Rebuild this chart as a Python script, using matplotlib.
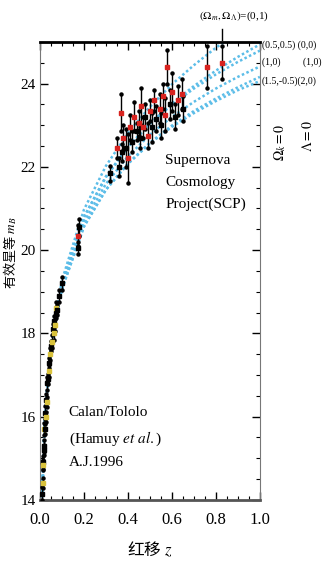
import matplotlib
matplotlib.use('Agg')
import matplotlib.pyplot as plt

# ========== DATA ==========
# model curves (Omega_m, Omega_L), magnitudes
z_model = [0.01, 0.02, 0.03, 0.05, 0.07, 0.1, 0.2, 0.3, 0.4, 0.5, 0.6, 0.7, 0.8, 0.9, 1.0]
m_0_1 = [14.07, 15.58, 16.48, 17.63, 18.38, 19.27, 20.97, 22.02, 22.81, 23.44, 23.98, 24.44, 24.86, 25.23, 25.57]
m_05_05 = [14.07, 15.58, 16.47, 17.61, 18.35, 19.19, 20.80, 21.77, 22.48, 23.03, 23.49, 23.88, 24.22, 24.52, 24.79]
m_0_0 = [14.07, 15.58, 16.47, 17.61, 18.35, 19.17, 20.78, 21.75, 22.47, 23.04, 23.52, 23.94, 24.31, 24.64, 24.94]
m_1_0 = [14.07, 15.57, 16.46, 17.59, 18.32, 19.11, 20.67, 21.59, 22.25, 22.77, 23.20, 23.56, 23.88, 24.16, 24.41]
m_15_m05 = [14.06, 15.57, 16.45, 17.57, 18.30, 19.06, 20.56, 21.45, 22.08, 22.58, 22.99, 23.34, 23.64, 23.91, 24.16]
m_2_0 = [14.06, 15.57, 16.45, 17.57, 18.30, 19.06, 20.57, 21.45, 22.07, 22.56, 22.96, 23.29, 23.58, 23.84, 24.06]

# Calan/Tololo low-z supernovae
z_ct = [0.010, 0.012, 0.014, 0.015, 0.017, 0.018, 0.020, 0.022, 0.024, 0.026,
        0.028, 0.030, 0.033, 0.036, 0.039, 0.043, 0.045, 0.050, 0.053, 0.058,
        0.062, 0.064, 0.068, 0.072, 0.075, 0.079, 0.088, 0.101]
m_ct = [14.15, 14.40, 14.90, 14.85, 15.30, 15.20, 15.70, 15.70, 16.10, 16.00,
        16.40, 16.35, 16.80, 16.90, 17.10, 17.30, 17.50, 17.70, 17.80, 18.10,
        18.00, 18.30, 18.20, 18.50, 18.60, 18.55, 18.90, 19.20]
e_ct = [0.15, 0.12, 0.15, 0.12, 0.15, 0.12, 0.15, 0.12, 0.15, 0.12,
        0.15, 0.12, 0.15, 0.12, 0.15, 0.12, 0.15, 0.12, 0.15, 0.12,
        0.15, 0.12, 0.15, 0.12, 0.15, 0.12, 0.15, 0.15]
c_ct = ['k', 'y', 'k', 'y', 'k', 'k', 'y', 'k', 'k', 'y',
        'k', 'y', 'k', 'k', 'y', 'k', 'y', 'k', 'y', 'k',
        'y', 'k', 'y', 'k', 'y', 'k', 'k', 'k']

# SCP high-z supernovae
z_scp = [0.172, 0.175, 0.178,
         0.32, 0.35, 0.36, 0.37, 0.375, 0.38, 0.39, 0.40, 0.41, 0.42,
         0.43, 0.44, 0.45, 0.455, 0.46, 0.47, 0.48, 0.49, 0.50, 0.51,
         0.52, 0.53, 0.545, 0.55, 0.56, 0.57, 0.58, 0.59, 0.60, 0.615,
         0.63, 0.645, 0.65, 0.76, 0.83]
m_scp = [20.35, 20.05, 20.55,
         21.85, 22.45, 22.00, 23.30, 22.35, 22.70, 22.45, 22.20, 22.95, 22.60,
         23.20, 22.85, 23.05, 22.70, 23.45, 22.95, 23.20, 22.75, 23.35, 22.95,
         23.60, 23.15, 23.40, 23.00, 23.70, 23.25, 24.40, 23.50, 23.80, 23.20,
         23.60, 23.75, 23.40, 24.40, 24.50]
e_scp = [0.25, 0.15, 0.20,
         0.18, 0.25, 0.22, 0.45, 0.20, 0.30, 0.45, 0.60, 0.30, 0.25,
         0.35, 0.20, 0.30, 0.25, 0.45, 0.25, 0.30, 0.30, 0.25, 0.35,
         0.25, 0.30, 0.35, 0.30, 0.30, 0.40, 0.40, 0.35, 0.45, 0.30,
         0.35, 0.35, 0.30, 0.50, 0.40]
c_scp = ['r', 'k', 'k',
         'k', 'r', 'k', 'r', 'k', 'r', 'k', 'r', 'r', 'k',
         'r', 'k', 'r', 'k', 'r', 'r', 'k', 'r', 'r', 'k',
         'r', 'k', 'r', 'k', 'r', 'r', 'r', 'k', 'r', 'k',
         'r', 'r', 'k', 'r', 'r']

x_ticks = [0.0, 0.2, 0.4, 0.6, 0.8, 1.0]
y_ticks = [14, 16, 18, 20, 22, 24]
# ==========================

CURVE_COLOR = '#5cbde8'
COLORS = {'k': 'black', 'r': '#d8231f', 'y': '#d9c23c'}
CJK = ['Noto Sans CJK SC', 'DejaVu Sans']

plt.rcParams['font.family'] = ['Liberation Serif', 'DejaVu Serif']
plt.rcParams['mathtext.fontset'] = 'stix'

fig = plt.figure(figsize=(3.22, 5.74), dpi=100)
ax = fig.add_axes([0.124, 0.129, 0.683, 0.798])

for m in [m_0_1, m_05_05, m_0_0, m_1_0, m_15_m05, m_2_0]:
    ax.plot(z_model, m, color=CURVE_COLOR, lw=1.8, ls=(0, (1, 1)), zorder=2)

def draw_points(zs, ms, es, cs, msize):
    for z, m, e, c in zip(zs, ms, es, cs):
        ax.plot([z, z], [m - e, m + e], color='black', lw=1.0, zorder=3)
        ax.plot([z, z], [m - e, m + e], 'o', color='black', ms=2.2, zorder=3)
        ax.plot(z, m, 's', color=COLORS[c], ms=msize, mec=COLORS[c], zorder=4)

draw_points(z_ct, m_ct, e_ct, c_ct, 2.8)
draw_points(z_scp, m_scp, e_scp, c_scp, 3.2)

ax.set_xlim(0, 1.0)
ax.set_ylim(14, 25)
ax.set_xticks(x_ticks)
ax.set_xticklabels(['%.1f' % v for v in x_ticks])
ax.set_yticks(y_ticks)
ax.set_xticks([i * 0.05 for i in range(21)], minor=True)
ax.set_yticks([14 + i * 0.5 for i in range(23)], minor=True)
ax.tick_params(which='both', direction='in', top=True, right=True, labelsize=12)
ax.tick_params(axis='y', labelsize=11)
ax.tick_params(which='major', length=6, width=1.0)
ax.tick_params(axis='x', which='major', pad=9)
ax.tick_params(axis='y', which='major', pad=3)
ax.tick_params(which='minor', length=3, width=0.8)

ax.spines['top'].set_linewidth(2.0)
ax.spines['bottom'].set_linewidth(2.0)
ax.spines['bottom'].set_color('#555555')
ax.spines['left'].set_color('#777777')
ax.spines['right'].set_color('#777777')

ax.set_xlabel('红移 $z$', fontsize=12, labelpad=8, family=CJK)
ax.set_ylabel('有效星等 $m_B$', fontsize=9.5, family=CJK)
ax.yaxis.set_label_coords(-0.095, 0.54)

ax.text(0.57, 22.3, 'Supernova\nCosmology\nProject(SCP)', fontsize=11,
        va='top', ha='left', linespacing=1.85)
ax.text(0.13, 16.25, 'Calan/Tololo\n(Hamuy $\\it{et\\ al.}$)\nA.J.1996', fontsize=11,
        va='top', ha='left', linespacing=1.8)

ax.text(0.88, 25.62, '$(\\Omega_m, \\Omega_\\Lambda)$=(0,1)', fontsize=8,
        ha='center', va='center', clip_on=False)
ax.plot([0.83, 0.83], [25.05, 25.3], color='black', lw=1.0, clip_on=False)
ax.text(1.01, 24.93, '(0.5,0.5) (0,0)', fontsize=7, ha='left', va='center')
ax.text(1.01, 24.52, '(1,0)         (1,0)', fontsize=7, ha='left', va='center')
ax.text(1.01, 24.05, '(1.5,-0.5)(2,0)', fontsize=7, ha='left', va='center')
ax.text(1.09, 22.6, '$\\Omega_k=0$', fontsize=10, rotation=90, ha='center', va='center')
ax.text(1.22, 22.75, '$\\Lambda=0$', fontsize=10, rotation=90, ha='center', va='center')

fig.savefig('out.png', dpi=100)
